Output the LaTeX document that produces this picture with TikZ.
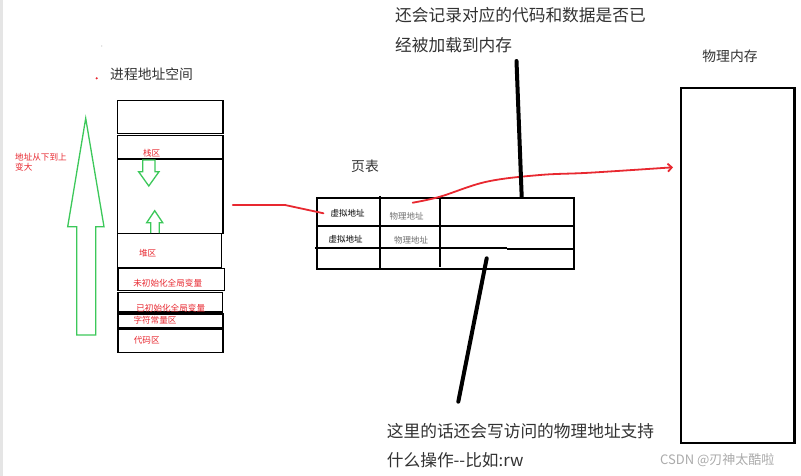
\documentclass[tikz,border=0pt]{standalone}
\usepackage{fontspec}
\setmainfont{Noto Sans CJK SC}
\usetikzlibrary{arrows.meta}
\definecolor{rd}{RGB}{232,40,48}
\definecolor{gr}{RGB}{60,200,90}
\definecolor{tx}{RGB}{50,50,50}
\definecolor{lg}{RGB}{150,150,150}
\tikzset{
  stk/.style={draw=black, line width=1.5pt, inner sep=0pt, outer sep=0pt},
  rlab/.style={text=rd, font=\fontsize{8.6}{10}\selectfont, inner sep=0pt},
  tlab/.style={text=black, font=\fontsize{8.5}{10}\selectfont, inner sep=0pt},
  plab/.style={text=tx!70, font=\fontsize{8.5}{10}\selectfont, inner sep=0pt},
  big/.style={text=tx, font=\fontsize{16.7}{20}\selectfont, inner sep=0pt, anchor=west},
  title/.style={text=tx, font=\fontsize{13.8}{16}\selectfont, inner sep=0pt},
  tbl/.style={line width=2pt, black},
  pen/.style={line width=4pt, black, line cap=round},
  harrow/.style={draw=gr, line width=1.3pt, line join=miter},
  rline/.style={draw=rd, line width=1.8pt, line cap=round}
}
\begin{document}
\begin{tikzpicture}[x=1pt,y=-1pt]
\useasboundingbox (0,0) rectangle (801,476);
\fill[white] (0,0) rectangle (801,476);
\fill[black!10] (0,0) rectangle (2.5,476);

% ---------- process address space ----------
\node[title, anchor=west] (pas) at (110,74) {进程地址空间};
\fill[rd] (96.7,78.3) circle (1.2);
\fill[lg!60] (101.7,46) circle (0.6);

\node[stk, minimum width=105.3, minimum height=32.6] (b1) at (170.35,117) {};
\node[stk, minimum width=105.3, minimum height=23.7] (b2) at (170.35,147.2) {};
\node[stk, minimum width=105.3, minimum height=74.3] (b3) at (170.35,196.2) {};
\node[stk, minimum width=104, minimum height=34] (b4) at (169.7,250.3) {};
\node[stk, minimum width=106.3, minimum height=22] (b5) at (171.2,279.7) {};
\node[stk, minimum width=104.7, minimum height=19.7] (b6) at (170.35,302.2) {};
\node[stk, minimum width=105, minimum height=14] (b7) at (170.5,321) {};
\node[stk, minimum width=105, minimum height=23.4] (b8) at (170.5,341) {};

\node[rlab] (l2) at (151.7,153.3) {栈区};
\node[rlab] (l4) at (147.7,253.3) {堆区};
\node[rlab] (l5) at (167.7,282.7) {未初始化全局变量};
\node[rlab] (l6) at (170.7,308.3) {已初始化全局变量};
\node[rlab] (l7) at (155,320) {字符常量区};
\node[rlab] (l8) at (146.7,340.7) {代码区};

% small hollow arrows inside the stack
\draw[harrow] (142.7,160) -- (155,160) -- (155,171.7) -- (159,171.7) -- (148.8,186)
  -- (138.6,171.7) -- (142.7,171.7) -- cycle;
\draw[harrow] (150.7,233) -- (150.7,222.7) -- (146.7,222.7) -- (154.7,210.7)
  -- (162.7,222.7) -- (159.3,222.7) -- (159.3,233);

% large green arrow
\draw[harrow] (76.7,335) -- (76.7,226.7) -- (67.7,226.7) -- (85.7,118.3)
  -- (104,226.7) -- (95.7,226.7) -- (95.7,335) -- cycle;
\node[rlab, anchor=west, align=left] (grow) at (15,162.5) {地址从下到上\\变大};

% ---------- page table ----------
\node[title] (pt) at (365,166.7) {页表};
\draw[tbl] (316.7,198.3) rectangle (574,269);
\draw[tbl] (316.7,226) -- (574,226);
\draw[tbl] (315,248.3) -- (506.7,248.3);
\draw[tbl] (506.7,249) -- (574,249);
\draw[tbl] (380,196) -- (380,269);
\draw[tbl] (440,196.7) -- (440,266.7);
\node[tlab] (va1) at (347.7,213.3) {虚拟地址};
\node[plab] (pa1) at (406.7,216) {物理地址};
\node[tlab] (va2) at (345.7,239.3) {虚拟地址};
\node[plab] (pa2) at (411,240.7) {物理地址};

% ---------- physical memory ----------
\node[title] (pmt) at (730,56.7) {物理内存};
\node[draw=black, line width=2.3pt, minimum width=113.3, minimum height=355,
      inner sep=0pt, outer sep=0pt] (pm) at (737.7,265.2) {};

% ---------- red connectors ----------
\coordinate (s1) at (232.7,205);
\coordinate (s2) at (285,205);
\draw[rline] (s1) -- (s2) -- ([xshift=-7pt]va1.west);
\coordinate (c1) at (412.7,202.7);
\coordinate (c6) at ([xshift=-8pt]pm.west |- 0,167.3);
\draw[rline, -{Straight Barb[length=4pt,width=8pt]}]
  plot[smooth, tension=0.6] coordinates {(c1) (440,196.7) (486.7,181.7) (540,175) (590,172.7) (c6)};

% ---------- annotations ----------
\node[big] (note1) at (395,15) {还会记录对应的代码和数据是否已};
\node[big] (note2) at (395,45) {经被加载到内存};
\coordinate (n1) at (516.5,61);
\coordinate (n1e) at (521.7,197);
\draw[pen] (n1) -- (n1e);

\node[big] (note3) at (386.7,430.7) {这里的话还会写访问的物理地址支持};
\node[big] (note4) at (386.7,460) {什么操作{-}{-}比如:rw};
\coordinate (n2) at (486.7,258.3);
\coordinate (n2e) at (458.3,401.7);
\draw[pen] (n2) -- (n2e);

\node[text=lg!80, font=\fontsize{13}{14}\selectfont, inner sep=0pt, anchor=west] (wm) at (660,460) {CSDN @刃神太酷啦};
\end{tikzpicture}
\end{document}
